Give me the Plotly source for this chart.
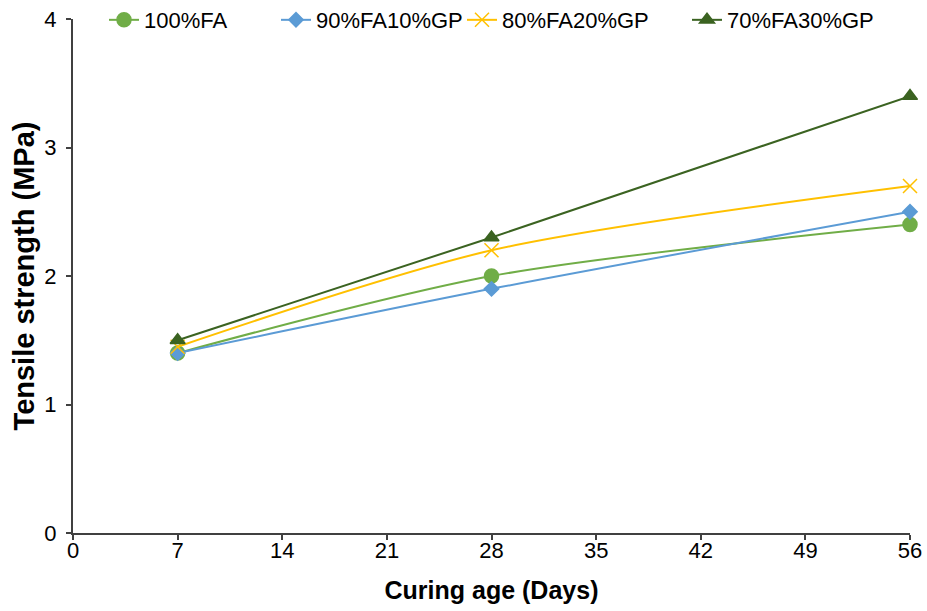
import plotly.graph_objects as go

days = [7, 28, 56]
series_names = ["100%FA", "90%FA10%GP", "80%FA20%GP", "70%FA30%GP"]
fa100 = [1.4, 2.0, 2.4]
fa90gp10 = [1.4, 1.9, 2.5]
fa80gp20 = [1.45, 2.2, 2.7]
fa70gp30 = [1.5, 2.3, 3.4]
x_ticks = [0, 7, 14, 21, 28, 35, 42, 49, 56]
y_ticks = [0, 1, 2, 3, 4]

values = [fa100, fa90gp10, fa80gp20, fa70gp30]
colors = ["#70AD47", "#5B9BD5", "#FFC000", "#3B6321"]
symbols = ["circle", "diamond", "x-thin-open", "triangle-up"]
sizes = [14, 11, 14, 13]
legend_ids = ["legend", "legend2", "legend3", "legend4"]
legend_x_px = [104, 276, 462, 687]

W, H = 927, 611
ML, MR, MT, MB = 73, 17, 19, 78
font_family = "Liberation Sans, Arial, sans-serif"

fig = go.Figure()
for name, vals, c, s, sz, lg in zip(series_names, values, colors, symbols, sizes, legend_ids):
    fig.add_trace(go.Scatter(
        x=days, y=vals, name=name, mode="lines+markers", legend=lg, cliponaxis=False,
        line=dict(color=c, width=2, shape="spline", smoothing=0.8),
        marker=dict(color=c, symbol=s, size=sz, line=dict(color=c, width=1.5)),
    ))

legend_common = dict(orientation="h", yref="paper", y=0.998, yanchor="middle",
                     xref="paper", xanchor="left",
                     font=dict(size=22, family=font_family, color="#000000"),
                     bgcolor="rgba(255,255,255,0)", borderwidth=0)
layout_legends = {}
for lg, xp in zip(legend_ids, legend_x_px):
    layout_legends[lg] = dict(legend_common, x=(xp - ML) / (W - ML - MR))

fig.update_layout(
    width=W, height=H,
    margin=dict(l=ML, r=MR, t=MT, b=MB, autoexpand=False),
    plot_bgcolor="white", paper_bgcolor="white",
    font=dict(family=font_family, size=22, color="#000000"),
    showlegend=True,
    **layout_legends,
    xaxis=dict(range=[0, 56], tickvals=x_ticks, showgrid=False, zeroline=False,
               showline=True, linecolor="#404040", linewidth=2, automargin=False,
               ticks="outside", ticklen=5, tickcolor="#404040", tickwidth=2,
               ticklabelstandoff=-8,
               title=dict(text="<b>Curing age (Days)</b>", font=dict(size=25), standoff=19)),
    yaxis=dict(range=[0, 4], tickvals=y_ticks, showgrid=False, zeroline=False,
               showline=True, linecolor="#404040", linewidth=2, automargin=False,
               ticks="outside", ticklen=5, tickcolor="#404040", tickwidth=2,
               ticklabelstandoff=5,
               title=dict(text="<b>Tensile strength (MPa)</b>", font=dict(size=29), standoff=1)),
)

fig.write_html("out.html", config={"displayModeBar": False},
               post_script="document.body.style.margin='0px';")
